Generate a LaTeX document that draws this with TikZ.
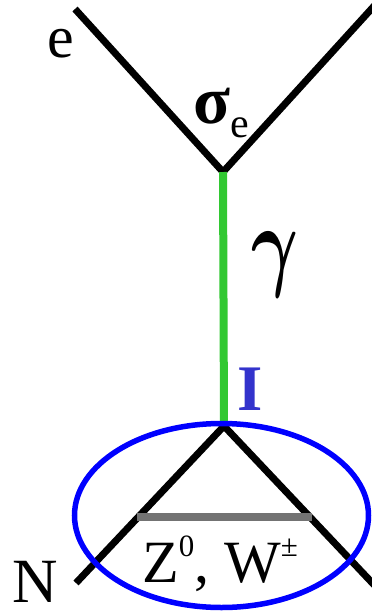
\documentclass[tikz,border=0pt]{standalone}
\usepackage{amsmath}
\usepackage{fontspec}
\setmainfont{Liberation Serif}
\definecolor{phgreen}{RGB}{50,200,50}
\definecolor{ellblue}{RGB}{0,0,255}
\definecolor{iblue}{RGB}{51,51,204}
\begin{document}
\begin{tikzpicture}[x=1pt,y=-1pt,
  fermion/.style={draw=black,line width=7pt,line join=miter},
  photon/.style={draw=phgreen,line width=8pt},
  loopell/.style={draw=ellblue,line width=5.5pt},
  exchange/.style={draw=black!55,line width=7.5pt},
  lbl/.style={inner sep=0pt,anchor=base,text depth=0pt}]
\useasboundingbox (0,0) rectangle (372,613);
\coordinate (eIn) at (75,9);
\coordinate (eOut) at (375,5);
\coordinate (vTop) at (223,172);
\coordinate (vBot) at (224,426);
\coordinate (nIn) at (76,583);
\coordinate (nOut) at (378,589);
\coordinate (xL) at (137,517);
\coordinate (xR) at (312,517);
\coordinate (loop) at (221.5,515.5);
\draw[fermion] (eIn) -- (vTop) -- (eOut);
\draw[photon] (vTop) -- (vBot);
\draw[fermion] (nIn) -- (vBot) -- (nOut);
\draw[exchange] (xL) -- (xR);
\draw[loopell] (loop) ellipse [x radius=147, y radius=92];
\node[lbl] (e) at (61,57) {\fontsize{60}{60}\selectfont e};
\node[lbl] (sigma) at (212,123) {\fontsize{68}{68}\selectfont\bfseries σ};
\node[lbl] (sigsub) at (240,137) {\fontsize{42}{42}\selectfont e};
\node[inner sep=0pt] (gamma) at (275,265) {\scalebox{7.2}[10.2]{$\boldsymbol{\gamma}$}};
\node[lbl,text=iblue] (I) at (250.5,410) {\fontsize{65}{65}\selectfont\bfseries I};
\node[lbl] (N) at (35,602) {\fontsize{63}{63}\selectfont N};
\node[lbl,anchor=base west] (ZW) at (142,582) {\fontsize{60}{60}\selectfont Z\raisebox{0.42em}{\fontsize{31}{31}\selectfont 0}, W\raisebox{0.42em}{\fontsize{31}{31}\selectfont ±}};
\end{tikzpicture}
\end{document}
